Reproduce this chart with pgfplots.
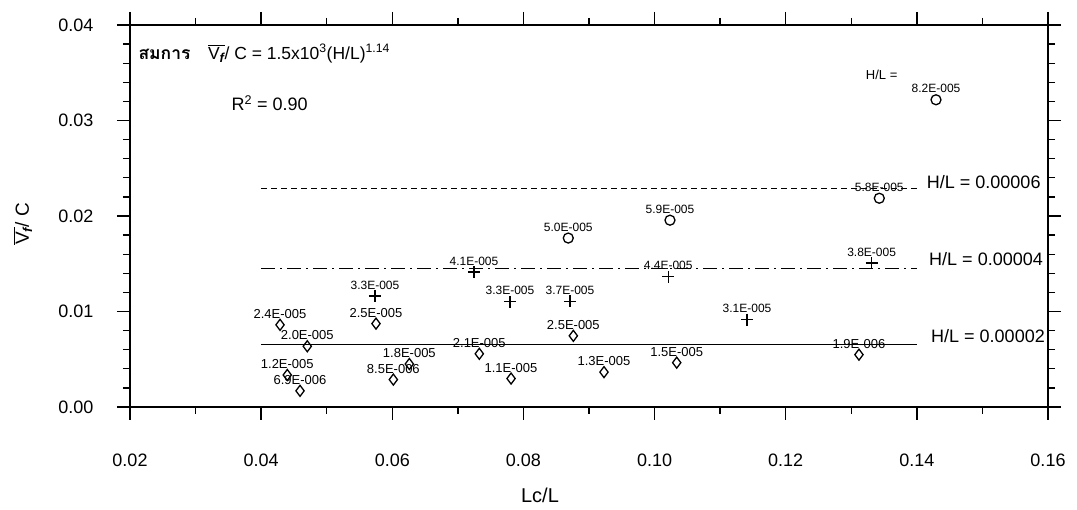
\documentclass[border=0pt]{standalone}
\usepackage{pgfplots}
\pgfplotsset{compat=1.18}
\usepackage{pgfplotstable}
\usepackage{fontspec}
\setmainfont{Liberation Sans}
\newfontfamily\thaifont[Script=Thai]{Loma}

\pgfplotstableread{
x y label
0.04288 0.00860 2.4E-005
0.04704 0.00636 2.0E-005
0.04399 0.00335 1.2E-005
0.04593 0.00169 6.9E-006
0.05752 0.00873 2.5E-005
0.06016 0.00287 8.5E-006
0.06260 0.00450 1.8E-005
0.07327 0.00557 2.1E-005
0.07811 0.00298 1.1E-005
0.08761 0.00745 2.5E-005
0.09229 0.00365 1.3E-005
0.10338 0.00464 1.5E-005
0.13117 0.00548 1.9E-006
}\diamonds

\pgfplotstableread{
x y label
0.05736 0.01163 3.3E-005
0.07246 0.01413 4.1E-005
0.07795 0.01101 3.3E-005
0.08710 0.01105 3.7E-005
0.10208 0.01363 4.4E-005
0.11410 0.00914 3.1E-005
0.13310 0.01507 3.8E-005
}\crosses

\pgfplotstableread{
x y label
0.08684 0.01769 5.0E-005
0.10235 0.01956 5.9E-005
0.13427 0.02186 5.8E-005
0.14292 0.03217 8.2E-005
}\circles

\newcommand{\Vf}{$\overline{\mbox{V}_{\mbox{\fontsize{13}{13}\selectfont\bfseries\itshape f}}}$}

\begin{document}
\begin{tikzpicture}
\useasboundingbox (0,0) rectangle (1077pt,510pt);
\begin{axis}[
  at={(130pt,103pt)}, anchor=south west,
  scale only axis, width=918pt, height=382pt,
  xmin=0.02, xmax=0.16, ymin=0, ymax=0.04,
  xtick={0.02,0.04,0.06,0.08,0.10,0.12,0.14,0.16},
  ytick={0,0.01,0.02,0.03,0.04},
  scaled x ticks=false, scaled y ticks=false,
  minor x tick num=1, minor y tick num=4,
  tick pos=both, xticklabel pos=lower, yticklabel pos=left,
  tick align=outside, major tick length=13pt, minor tick length=7pt,
  axis line style={line width=1.5pt},
  every tick/.style={black, line width=1.3pt},
  /pgf/number format/assume math mode=true,
  /pgf/number format/fixed, /pgf/number format/fixed zerofill, /pgf/number format/precision=2,
  tick label style={font=\fontsize{18}{18}\selectfont},
  xticklabel style={anchor=center, yshift=-40pt},
  yticklabel style={anchor=east, xshift=-20pt},
  xlabel={Lc/L},
  xlabel style={at={(axis description cs:0.4466,-0.2304)}, anchor=center, font=\fontsize{20}{20}\selectfont},
  ylabel={\Vf/ C},
  ylabel style={at={(axis description cs:-0.1166,0.479)}, anchor=center, font=\fontsize{19}{19}\selectfont},
  clip=false,
  point meta=explicit symbolic,
]
\addplot[black, line width=1.1pt, dash pattern=on 6pt off 4pt] coordinates {(0.04,0.0229) (0.14,0.0229)};
\addplot[black, line width=1.1pt, dash pattern=on 14pt off 5pt on 2pt off 5pt] coordinates {(0.04,0.0145) (0.14,0.0145)};
\addplot[black, line width=1.1pt] coordinates {(0.04,0.0065) (0.14,0.0065)};

\addplot[only marks, mark=diamond, mark size=5.5pt, mark options={line width=1.3pt, black, fill=none},
  nodes near coords, every node near coord/.style={anchor=center, yshift=11pt, font=\fontsize{13}{13}\selectfont}]
  table[x=x, y=y, meta=label] {\diamonds};
\addplot[only marks, mark=+, mark size=6pt, mark options={line width=1.2pt, black},
  nodes near coords, every node near coord/.style={anchor=center, yshift=11pt, font=\fontsize{12}{12}\selectfont}]
  table[x=x, y=y, meta=label] {\crosses};
\addplot[only marks, mark=o, mark size=5pt, mark options={line width=1.3pt, black},
  nodes near coords, every node near coord/.style={anchor=center, yshift=11pt, font=\fontsize{12}{12}\selectfont}]
  table[x=x, y=y, meta=label] {\circles};

\node[anchor=base west, font=\fontsize{17.5}{17.5}\selectfont] at (axis cs:0.02076,0.03643)
  {{\thaifont\bfseries สมการ}\quad\Vf/ C = 1.5x10\textsuperscript{3}(H/L)\textsuperscript{1.14}};
\node[anchor=base west, font=\fontsize{18}{18}\selectfont] at (axis cs:0.03495,0.0310)
  {R\textsuperscript{2} = 0.90};
\node[anchor=west, font=\fontsize{13}{13}\selectfont] at (axis cs:0.1317,0.03476) {H/L =};
\node[anchor=west, font=\fontsize{18}{18}\selectfont] at (axis cs:0.1410,0.02359) {H/L = 0.00006};
\node[anchor=west, font=\fontsize{18}{18}\selectfont] at (axis cs:0.14135,0.01553) {H/L = 0.00004};
\node[anchor=west, font=\fontsize{18}{18}\selectfont] at (axis cs:0.14165,0.00747) {H/L = 0.00002};
\end{axis}
\end{tikzpicture}
\end{document}
